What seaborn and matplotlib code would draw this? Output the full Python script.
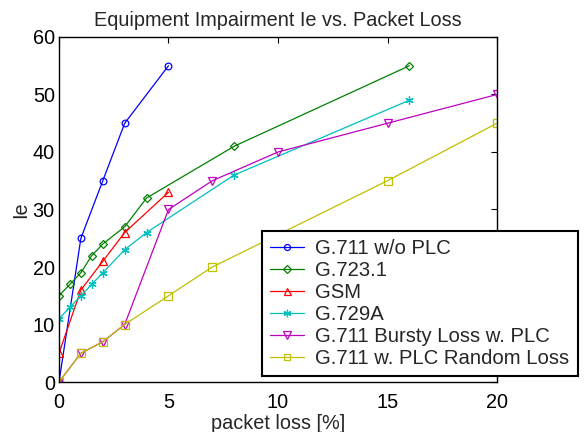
import matplotlib
matplotlib.use("Agg")
import matplotlib.pyplot as plt
import seaborn as sns
import pandas as pd

sns.set_style("white")
plt.rcParams['font.family'] = ['Liberation Sans', 'DejaVu Sans']

# Data
x_g711 = [0, 1, 2, 3, 5]
y_g711 = [0, 25, 35, 45, 55]

x_g723 = [0, 0.5, 1, 1.5, 2, 3, 4, 8, 16]
y_g723 = [15, 17, 19, 22, 24, 27, 32, 41, 55]

x_gsm = [0, 1, 2, 3, 5]
y_gsm = [5, 16, 21, 26, 33]

x_g729 = [0, 0.5, 1, 1.5, 2, 3, 4, 8, 16]
y_g729 = [11, 13, 15, 17, 19, 23, 26, 36, 49]

x_bursty = [0, 1, 2, 3, 5, 7, 10, 15, 20]
y_bursty = [0, 5, 7, 10, 30, 35, 40, 45, 50]

x_random = [0, 1, 2, 3, 5, 7, 15, 20]
y_random = [0, 5, 7, 10, 15, 20, 35, 45]

labels = ["G.711 w/o PLC", "G.723.1", "GSM", "G.729A",
          "G.711 Bursty Loss w. PLC", "G.711 w. PLC Random Loss"]
xs = [x_g711, x_g723, x_gsm, x_g729, x_bursty, x_random]
ys = [y_g711, y_g723, y_gsm, y_g729, y_bursty, y_random]
colors = [(0, 0, 1), (0, 0.5, 0), (1, 0, 0), (0, 0.75, 0.75),
          (0.75, 0, 0.75), (0.75, 0.75, 0)]
markers = ['o', 'D', '^', (6, 2, 0), 'v', 's']
msizes = [4.8, 4.3, 5.6, 6, 5.8, 5.3]

FS = 14.3

fig = plt.figure(figsize=(5.87, 4.32), dpi=100)
ax = fig.add_axes([0.1005, 0.1157, 0.7462, 0.7987])

for x, y, lab, c, m, ms in zip(xs, ys, labels, colors, markers, msizes):
    df = pd.DataFrame({"x": x, "y": y})
    sns.lineplot(data=df, x="x", y="y", ax=ax, color=c, marker=m,
                 markersize=ms, markerfacecolor='none', markeredgecolor=c,
                 markeredgewidth=0.9, linewidth=0.9, label=lab,
                 estimator=None, sort=False)

ax.set_xlim(0, 20)
ax.set_ylim(0, 60)
ax.set_xticks([0, 5, 10, 15, 20])
ax.set_yticks([0, 10, 20, 30, 40, 50, 60])
ax.tick_params(direction='in', top=True, right=True, labelsize=FS,
               length=4, width=0.8, colors='black')
ax.tick_params(axis='x', pad=8)
ax.tick_params(axis='y', pad=3)
for s in ax.spines.values():
    s.set_visible(True)
    s.set_color('black')
    s.set_linewidth(1.0)

ax.set_title("Equipment Impairment Ie vs. Packet Loss", fontsize=FS, pad=8)
ax.set_xlabel("packet loss [%]", fontsize=FS, labelpad=1)
ax.set_ylabel("Ie", fontsize=FS, labelpad=2)

leg = ax.legend(loc='upper left', bbox_to_anchor=(0.4458, 0.4653),
                bbox_transform=fig.transFigure, fontsize=14.6, fancybox=False,
                framealpha=1, edgecolor='black', handlelength=1.7,
                borderaxespad=0, labelspacing=0.15, borderpad=0.4,
                handletextpad=0.55, markerscale=0.9)
leg.get_frame().set_linewidth(1.5)

fig.savefig("out.png", dpi=100)
